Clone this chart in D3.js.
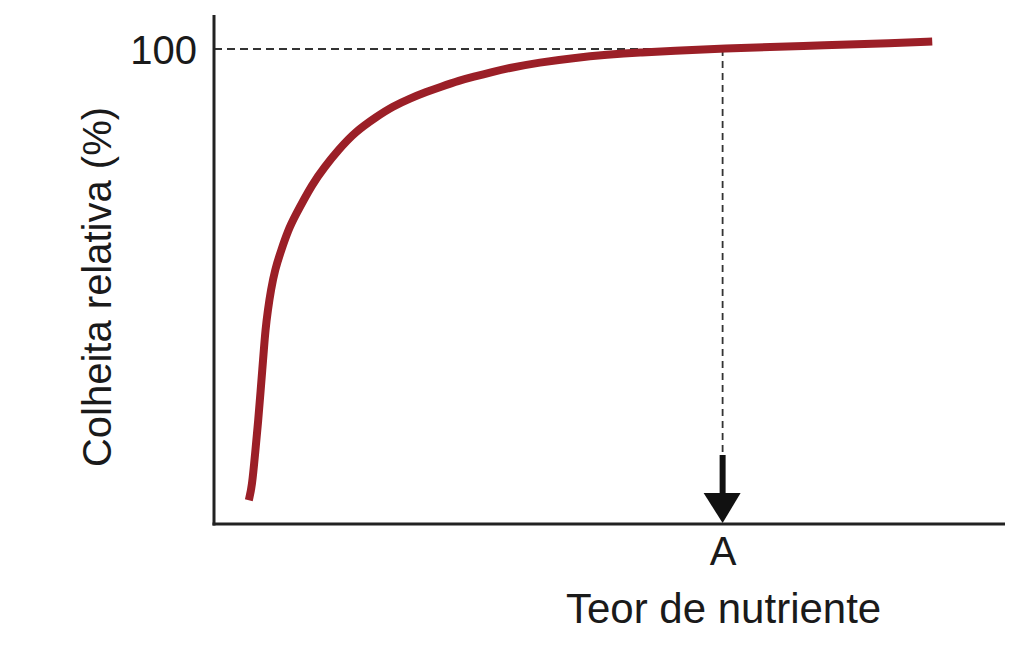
<!DOCTYPE html>
<html>
<head>
<meta charset="utf-8">
<script src="https://cdn.jsdelivr.net/npm/d3@7"></script>
<style>
  html, body { margin: 0; padding: 0; background: #fff; }
  text { font-family: "Liberation Sans", Arial, sans-serif; fill: #1a1a1a; }
</style>
</head>
<body>
<div id="chart"></div>
<script>
// Chart size
const width = 1024;
const height = 646;

// Curve: nutrient content (x) vs relative yield (y)
const nutrient = [4.4, 4.8, 5.2, 5.6, 5.9, 6.1, 6.3, 6.5, 6.8, 7.2, 7.7, 8.5, 9.4, 10.1, 12.5, 14.0, 15.7, 17.8, 20.6, 22.6, 24.8, 26.9, 28.6, 31.1, 32.7, 35.3, 37.0, 41.2, 45.4, 49.7, 53.9, 58.0, 64.0, 74.1, 86.7, 90.8];
const yieldPct = [5.0, 7.8, 14.9, 21.9, 28.2, 32.4, 36.6, 40.8, 45.0, 49.3, 53.5, 57.7, 61.9, 64.4, 71.8, 75.2, 78.7, 82.5, 85.8, 87.9, 89.6, 91.0, 92.0, 93.4, 94.1, 95.2, 95.9, 97.2, 98.1, 98.8, 99.3, 99.6, 100.1, 100.6, 101.3, 101.6];

// Reference marks
const yTicks = [100];
const criticalLevel = 64.3; // point "A"
const xTickLabels = ["A"];

const xLabel = "Teor de nutriente";
const yLabel = "Colheita relativa (%)";

const svg = d3.select("#chart")
  .append("svg")
  .attr("width", width)
  .attr("height", height);

const x = d3.scaleLinear().domain([0, 100]).range([214, 1005]);
const y = d3.scaleLinear().domain([0, 100]).range([524, 49]);

// Dashed guide lines
svg.append("line")
  .attr("x1", x(0)).attr("x2", x(criticalLevel))
  .attr("y1", y(100)).attr("y2", y(100))
  .attr("stroke", "#333").attr("stroke-width", 1.8)
  .attr("stroke-dasharray", "8,5");

svg.append("line")
  .attr("x1", x(criticalLevel)).attr("x2", x(criticalLevel))
  .attr("y1", y(100)).attr("y2", y(0) - 66)
  .attr("stroke", "#333").attr("stroke-width", 1.8)
  .attr("stroke-dasharray", "7,5");

// Arrow pointing at A
const ax = x(criticalLevel);
const ay = y(0);
svg.append("line")
  .attr("x1", ax).attr("x2", ax)
  .attr("y1", ay - 69).attr("y2", ay - 28)
  .attr("stroke", "#111").attr("stroke-width", 6);
svg.append("path")
  .attr("d", `M${ax - 19},${ay - 31} L${ax + 18},${ay - 31} L${ax},${ay - 1} Z`)
  .attr("fill", "#111");

// Response curve
const data = nutrient.map((d, i) => ({ x: d, y: yieldPct[i] }));
const line = d3.line()
  .x(d => x(d.x))
  .y(d => y(d.y))
  .curve(d3.curveBasis);

svg.append("path")
  .datum(data)
  .attr("d", line)
  .attr("fill", "none")
  .attr("stroke", "#9b1f27")
  .attr("stroke-width", 8)
  .attr("stroke-linecap", "butt");

// Axes
const yAxis = d3.axisLeft(y).tickValues(yTicks).tickSize(0).tickPadding(17).tickFormat(d3.format("d"));
const gy = svg.append("g").attr("transform", `translate(${x(0)},0)`).call(yAxis);
gy.select(".domain").remove();
gy.selectAll("text").attr("font-size", 40).attr("dy", "0.36em").attr("fill", "#1a1a1a");

const xAxis = d3.axisBottom(x).tickValues([criticalLevel]).tickSize(0).tickPadding(13).tickFormat((d, i) => xTickLabels[i]);
const gx = svg.append("g").attr("transform", `translate(0,${y(0)})`).call(xAxis);
gx.select(".domain").remove();
gx.selectAll("text").attr("font-size", 40).attr("fill", "#1a1a1a");

// Axis lines (open L shape)
svg.append("line")
  .attr("x1", x(0)).attr("x2", x(0))
  .attr("y1", 15).attr("y2", y(0) + 1.5)
  .attr("stroke", "#222").attr("stroke-width", 3);
svg.append("line")
  .attr("x1", x(0) - 1.5).attr("x2", x(100))
  .attr("y1", y(0)).attr("y2", y(0))
  .attr("stroke", "#222").attr("stroke-width", 3);

// Axis titles
svg.append("text")
  .attr("x", x(criticalLevel) + 1)
  .attr("y", 623)
  .attr("text-anchor", "middle")
  .attr("font-size", 42)
  .text(xLabel);

svg.append("text")
  .attr("transform", `translate(111,287) rotate(-90)`)
  .attr("text-anchor", "middle")
  .attr("font-size", 40)
  .text(yLabel);
</script>
</body>
</html>
